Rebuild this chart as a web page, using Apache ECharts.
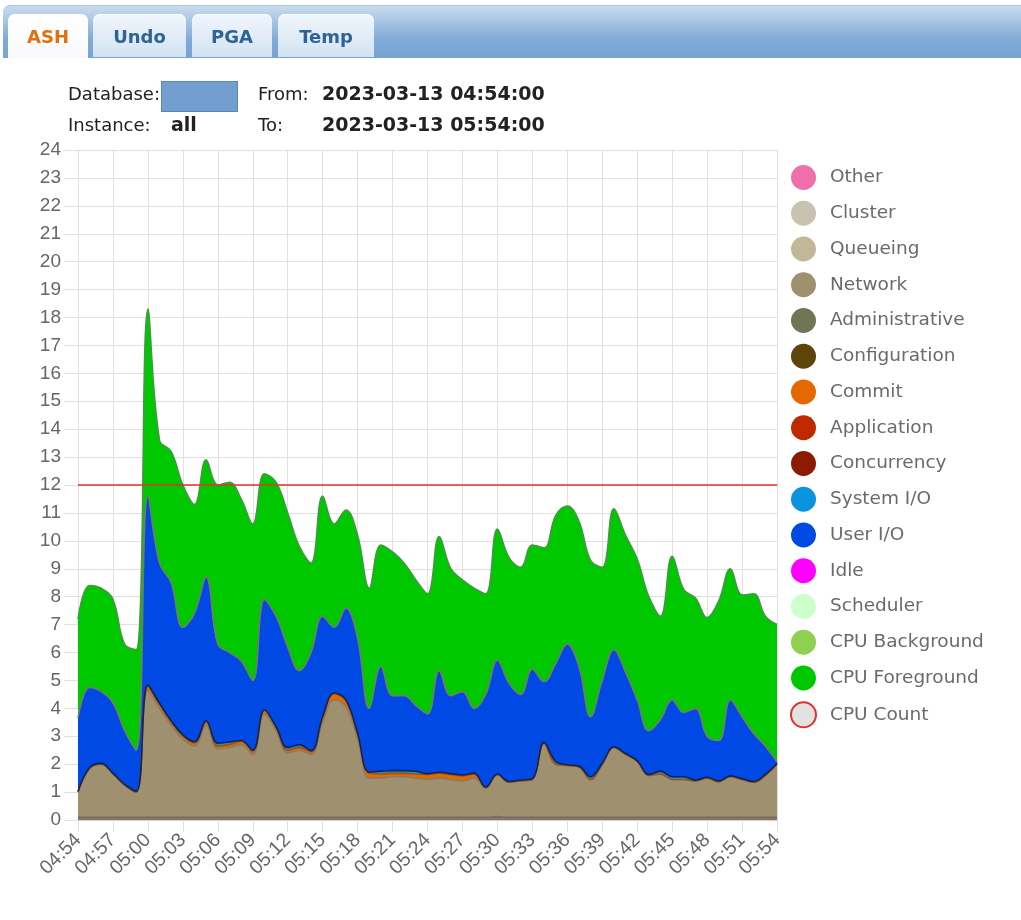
<!DOCTYPE html>
<html>
<head>
<meta charset="utf-8">
<script src="https://cdn.jsdelivr.net/npm/echarts@6/dist/echarts.min.js"></script>
<style>
  html, body { margin: 0; padding: 0; background: #fff; }
  #wrap { position: relative; width: 1021px; height: 920px; overflow: hidden; }
  #chart { position: absolute; left: 0; top: 0; width: 1021px; height: 920px; }
  .bar { position: absolute; left: 3px; top: 5px; width: 1030px; height: 52px;
         border-radius: 7px 0 0 0; border-top: 1px solid #a9c4e0;
         background: linear-gradient(to bottom, #c9dcef 0%, #a6c4e3 30%, #80aad6 65%, #77a3d2 100%); z-index: 2; }
  .tab { position: absolute; top: 14px; height: 43px; border-radius: 7px 7px 0 0;
         font-family: "DejaVu Sans", Verdana, sans-serif; font-weight: bold; font-size: 18px;
         color: #2f6396; text-align: center; line-height: 46px; z-index: 3;
         background: linear-gradient(to bottom, #f1f6fc 0%, #dfeaf6 60%, #d2e2f2 100%);
         box-shadow: inset 0 1px 0 #ffffff; }
  .tab.active { color: #e2700f; background: linear-gradient(to bottom, #ffffff 0%, #f7f9fc 100%); height: 44px; }
  .hdr { position: absolute; font-family: "DejaVu Sans", Verdana, sans-serif; font-size: 18px; color: #222; z-index: 3; white-space: nowrap; }
  .b { font-weight: bold; font-size: 19px; }
  .dbbox { position: absolute; left: 161px; top: 81px; width: 75px; height: 29px; background: #729fd0; border: 1px solid #5a87bf; z-index: 3; }
</style>
</head>
<body>
<div id="wrap">
  <div id="chart"></div>
  <div class="bar"></div>
  <div class="tab active" style="left:8px;width:80px;">ASH</div>
  <div class="tab" style="left:93px;width:93px;">Undo</div>
  <div class="tab" style="left:192px;width:80px;">PGA</div>
  <div class="tab" style="left:278px;width:96px;">Temp</div>
  <div class="hdr" style="left:68px;top:83px;">Database:</div>
  <div class="dbbox"></div>
  <div class="hdr" style="left:258px;top:83px;">From:</div>
  <div class="hdr b" style="left:322px;top:82px;">2023-03-13 04:54:00</div>
  <div class="hdr" style="left:68px;top:114px;">Instance:</div>
  <div class="hdr b" style="left:171px;top:113px;">all</div>
  <div class="hdr" style="left:258px;top:114px;">To:</div>
  <div class="hdr b" style="left:322px;top:113px;">2023-03-13 05:54:00</div>
</div>
<script>
// ---- categories (one sample per minute) ----
const times = [
  '04:54','04:55','04:56','04:57','04:58','04:59','05:00','05:01','05:02','05:03',
  '05:04','05:05','05:06','05:07','05:08','05:09','05:10','05:11','05:12','05:13',
  '05:14','05:15','05:16','05:17','05:18','05:19','05:20','05:21','05:22','05:23',
  '05:24','05:25','05:26','05:27','05:28','05:29','05:30','05:31','05:32','05:33',
  '05:34','05:35','05:36','05:37','05:38','05:39','05:40','05:41','05:42','05:43',
  '05:44','05:45','05:46','05:47','05:48','05:49','05:50','05:51','05:52','05:53','05:54'
];
const yTicks = [0,1,2,3,4,5,6,7,8,9,10,11,12,13,14,15,16,17,18,19,20,21,22,23,24];

// ---- series values (average active sessions) ----
const clusterVals = [
  0.1,0.1,0.1,0.1,0.1,0.1,0.1,0.1,0.1,0.1,0.1,0.1,0.1,0.1,0.1,0.1,0.1,0.1,0.1,0.1,
  0.1,0.1,0.1,0.1,0.1,0.1,0.1,0.1,0.1,0.1,0.1,0.1,0.1,0.1,0.1,0.1,0.12,0.1,0.1,0.1,
  0.1,0.1,0.1,0.1,0.1,0.1,0.1,0.1,0.1,0.1,0.1,0.1,0.1,0.1,0.1,0.1,0.1,0.1,0.1,0.1,0.1
];
const networkVals = [
  0.9,1.75,1.9,1.55,1.15,0.9,4.55,3.9,3.3,2.8,2.55,3.3,2.45,2.5,2.6,2.25,3.7,3.1,2.3,2.4,
  2.25,3.4,4.2,3.95,2.8,1.4,1.4,1.45,1.45,1.4,1.35,1.4,1.35,1.3,1.4,1.05,1.5,1.25,1.3,1.35,
  2.65,1.9,1.85,1.8,1.35,1.9,2.5,2.25,2.0,1.5,1.55,1.35,1.35,1.3,1.4,1.27,1.45,1.35,1.25,1.5,1.9
];
const commitVals = [
  0,0,0,0,0,0,0.15,0.15,0.12,0.12,0.12,0.12,0.1,0.1,0.12,0.12,0.12,0.12,0.1,0.1,
  0.1,0.18,0.22,0.22,0.18,0.18,0.15,0.12,0.12,0.15,0.18,0.18,0.18,0.18,0.15,0,0,0,0,0,
  0,0,0,0,0,0,0,0,0,0,0,0,0,0,0,0,0,0,0,0,0
];
const sysIoVals = [
  0.03,0.03,0.03,0.03,0.03,0.03,0.03,0.03,0.03,0.03,0.03,0.03,0.1,0.1,0.03,0.03,0.03,0.03,0.1,0.1,
  0.03,0.03,0.03,0.03,0.03,0.03,0.1,0.1,0.1,0.1,0.03,0.03,0.03,0.03,0.03,0.03,0.03,0.03,0.03,0.03,
  0.03,0.1,0.03,0.03,0.1,0.03,0.03,0.03,0.03,0.03,0.1,0.1,0.1,0.03,0.03,0.03,0.03,0.03,0.03,0.03,0.03
];
const userIoVals = [
  2.62,2.87,2.57,2.52,1.92,1.47,6.77,5.02,4.95,3.85,4.6,5.15,3.55,3.2,2.85,2.5,3.95,3.95,3.6,2.65,
  3.52,3.59,2.35,3.3,3.39,2.29,3.75,2.68,2.68,2.35,2.14,3.64,2.79,2.99,2.32,3.32,4.07,3.52,3.07,3.92,
  2.17,3.5,4.32,3.57,2.15,2.97,3.47,2.92,2.17,1.57,1.85,2.75,2.3,2.57,1.47,1.45,2.72,2.22,1.72,1.02,0.05
];
const cpuFgVals = [
  3.55,3.65,3.7,3.7,3.1,3.6,6.7,4.4,4.7,5.1,3.9,4.2,5.7,6.1,5.8,5.6,4.5,4.8,4.8,4.45,
  3.2,4.3,3.7,3.5,3.7,4.3,4.35,5.15,4.75,4.5,4.3,4.8,4.55,4.0,4.3,3.6,4.7,4.5,4.55,4.45,
  4.8,5.3,4.95,5.2,5.6,4.05,5.05,4.9,5.05,4.8,3.7,5.15,4.4,3.95,4.25,5.0,4.7,4.36,5.0,4.65,4.92
];
const cpuCountVals = [
  12,12,12,12,12,12,12,12,12,12,12,12,12,12,12,12,12,12,12,12,
  12,12,12,12,12,12,12,12,12,12,12,12,12,12,12,12,12,12,12,12,
  12,12,12,12,12,12,12,12,12,12,12,12,12,12,12,12,12,12,12,12,12
];

// ---- wait classes in stack order (bottom first), with colours ----
const classes = [
  { name: 'Other',          color: '#F06EAA', data: [] },
  { name: 'Cluster',        color: '#C9C2B0', area: '#85766a', line: '#7a6b60', data: clusterVals },
  { name: 'Queueing',       color: '#C2B797', data: [] },
  { name: 'Network',        color: '#9F9070', line: '#8a7c60', data: networkVals },
  { name: 'Administrative', color: '#717455', data: [] },
  { name: 'Configuration',  color: '#5C440B', data: [] },
  { name: 'Commit',         color: '#E46800', line: '#9a5216', data: commitVals },
  { name: 'Application',    color: '#C02800', data: [] },
  { name: 'Concurrency',    color: '#8B1A00', data: [] },
  { name: 'System I/O',     color: '#0A94DE', line: '#10244f', data: sysIoVals },
  { name: 'User I/O',       color: '#0049E4', line: '#707c66', data: userIoVals },
  { name: 'Idle',           color: '#FF00FF', data: [] },
  { name: 'Scheduler',      color: '#CCFFCC', data: [] },
  { name: 'CPU Background', color: '#8ED04F', data: [] },
  { name: 'CPU Foreground', color: '#00C800', line: '#3f9a3f', data: cpuFgVals }
];

const chart = echarts.init(document.getElementById('chart'), null, { renderer: 'canvas' });

const series = classes.map(c => ({
  name: c.name,
  type: 'line',
  stack: 'ash',
  smooth: 0.4,
  showSymbol: false,
  symbol: 'none',
  data: c.data,
  itemStyle: { color: c.color },
  lineStyle: { color: c.line || c.color, width: 1.6 },
  areaStyle: { color: c.area || c.color, opacity: 1 },
  emphasis: { disabled: true }
}));
series.push({
  name: 'CPU Count',
  type: 'line',
  showSymbol: false,
  symbol: 'none',
  data: cpuCountVals,
  itemStyle: { color: '#dddddd' },
  lineStyle: { color: '#e3302c', width: 1.6 },
  z: 5,
  emphasis: { disabled: true }
});

const legendData = classes.map(c => ({ name: c.name, icon: 'circle', itemStyle: { color: c.color, borderWidth: 0 } }));
legendData.push({ name: 'CPU Count', icon: 'circle', itemStyle: { color: '#e2e2e2', borderColor: '#e3302c', borderWidth: 2 } });

chart.setOption({
  animation: false,
  backgroundColor: '#ffffff',
  grid: { left: 78, right: 244, top: 150, bottom: 100, containLabel: false },
  legend: {
    orient: 'vertical',
    left: 785,
    top: 160,
    itemWidth: 25,
    itemHeight: 25,
    itemGap: 10.75,
    selectedMode: false,
    data: legendData,
    textStyle: { color: '#6a6a6a', fontSize: 18.5, fontFamily: 'DejaVu Sans', padding: [0, 0, 0, 9] }
  },
  xAxis: {
    type: 'category',
    data: times,
    boundaryGap: false,
    axisLine: { show: true, lineStyle: { color: '#cfcfcf', width: 1 } },
    axisTick: { show: true, interval: 2, length: 12, lineStyle: { color: '#e0e0e0' } },
    splitLine: { show: true, interval: 2, lineStyle: { color: '#e0e0e0', width: 1 } },
    axisLabel: { interval: 2, rotate: 45, margin: 17, color: '#666', fontSize: 19.5, fontFamily: 'Liberation Sans' }
  },
  yAxis: {
    type: 'value',
    min: yTicks[0],
    max: yTicks[yTicks.length - 1],
    interval: 1,
    axisLine: { show: false },
    axisTick: { show: true, length: 14, lineStyle: { color: '#e0e0e0' } },
    splitLine: { show: true, lineStyle: { color: '#e0e0e0', width: 1 } },
    axisLabel: { margin: 17, color: '#666', fontSize: 19, fontFamily: 'Liberation Sans' }
  },
  series: series
});
</script>
</body>
</html>
